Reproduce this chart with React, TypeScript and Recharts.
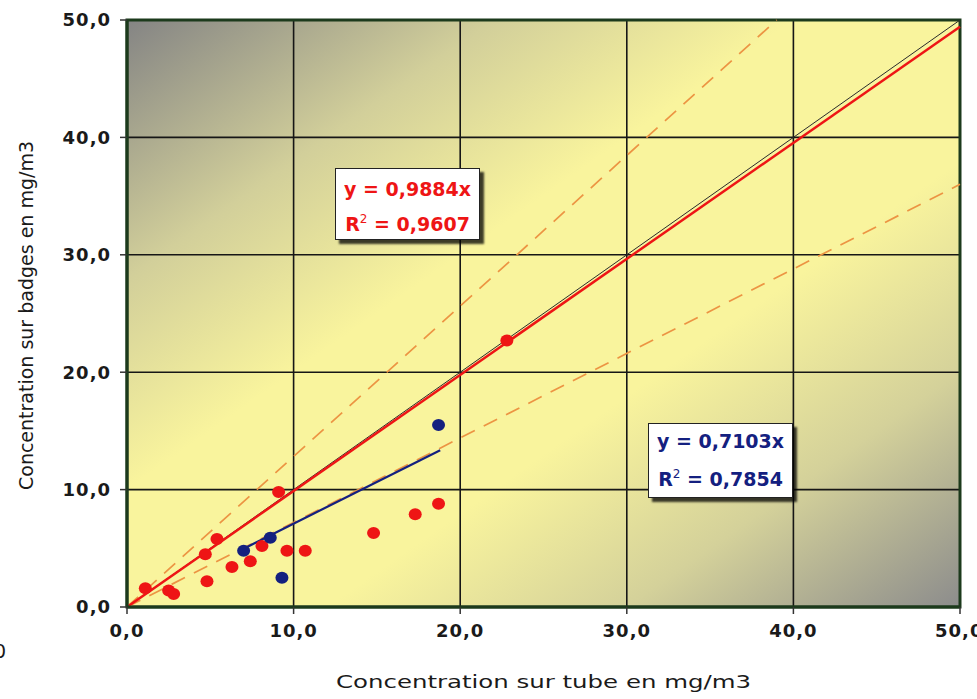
import React from 'react';
import {
  ScatterChart,
  CartesianGrid,
  XAxis,
  YAxis,
  Scatter,
  ReferenceLine,
  ReferenceArea,
  Label,
} from 'recharts';

// axes (mg/m3)
const axisTicks = [0, 10, 20, 30, 40, 50];

// badges vs tube – série rouge
const redTube = [1.1, 2.5, 2.8, 4.8, 4.7, 5.4, 6.3, 7.4, 8.1, 9.1, 9.6, 10.7, 14.8, 17.3, 18.7, 22.8];
const redBadge = [1.6, 1.4, 1.1, 2.2, 4.5, 5.8, 3.4, 3.9, 5.2, 9.8, 4.8, 4.8, 6.3, 7.9, 8.8, 22.7];

// série bleue
const blueTube = [7.0, 8.6, 9.3, 18.7];
const blueBadge = [4.8, 5.9, 2.5, 15.5];

// droites de régression et repères (extrémités)
const redFit = [{ x: 0, y: 0 }, { x: 50, y: 49.42 }];
const blueFit = [{ x: 7.0, y: 4.97 }, { x: 18.8, y: 13.35 }];
const identity = [{ x: 0, y: 0 }, { x: 50, y: 50 }];
const upperBound = [{ x: 0, y: 0 }, { x: 39, y: 50 }];
const lowerBound = [{ x: 0, y: 0 }, { x: 50, y: 36 }];

const RED = '#ee1515';
const BLUE = '#14207f';
const GRID = '#161616';
const FRAME = '#1c3a1c';
const DASH = '#ec9443';

const redPoints = redTube.map((x, i) => ({ x, y: redBadge[i] }));
const bluePoints = blueTube.map((x, i) => ({ x, y: blueBadge[i] }));

const fmt = (v: number) => v.toFixed(1).replace('.', ',');

const tickStyle = {
  fontFamily: '"DejaVu Sans", Verdana, sans-serif',
  fontSize: 18,
  fontWeight: 700,
  fill: '#1a1a1a',
  letterSpacing: 1,
};

function Dot({ cx, cy, color }: { cx?: number; cy?: number; color: string }) {
  if (cx == null || cy == null) return null;
  return <ellipse cx={cx} cy={cy} rx={6.5} ry={6} fill={color} />;
}

const boxBase: React.CSSProperties = {
  position: 'absolute',
  boxSizing: 'border-box',
  width: 145,
  background: '#fff',
  border: '1.5px solid #222',
  boxShadow: '4px 4px 2px rgba(0,0,0,0.75)',
  textAlign: 'center',
  fontFamily: '"DejaVu Sans", Verdana, sans-serif',
  fontWeight: 700,
  fontSize: 19,
  whiteSpace: 'nowrap',
};

export default function App() {
  return (
    <div style={{ position: 'absolute', left: 0, top: 0, width: 977, height: 699, background: '#fff' }}>
      <ScatterChart width={977} height={699} margin={{ top: 20, right: 17, bottom: 0, left: 0 }}>
        <defs>
          <linearGradient id="plotBg" x1="0" y1="0" x2="1" y2="1">
            <stop offset="0%" stopColor="#848484" />
            <stop offset="22%" stopColor="#d2cf9a" />
            <stop offset="40%" stopColor="#f9f49d" />
            <stop offset="62%" stopColor="#f9f49d" />
            <stop offset="80%" stopColor="#d4d19a" />
            <stop offset="100%" stopColor="#8c8c8c" />
          </linearGradient>
        </defs>
        <CartesianGrid fill="url(#plotBg)" fillOpacity={1} stroke={GRID} strokeWidth={1.6} />
        <XAxis
          type="number"
          dataKey="x"
          domain={[0, 50]}
          ticks={axisTicks}
          tickFormatter={fmt}
          height={92}
          tickSize={7}
          tickMargin={10}
          tick={tickStyle}
          axisLine={{ stroke: FRAME, strokeWidth: 3 }}
          tickLine={{ stroke: '#333', strokeWidth: 1.5 }}
        >
          <Label
            content={(props: any) => {
              const vb = props.viewBox;
              return (
                <text
                  x={vb.x + vb.width / 2}
                  y={vb.y + vb.height - 11}
                  textAnchor="middle"
                  textLength={415}
                  lengthAdjust="spacingAndGlyphs"
                  fontFamily='"DejaVu Sans", Verdana, sans-serif'
                  fontSize={18}
                  fill="#1a1a1a"
                >
                  Concentration sur tube en mg/m3
                </text>
              );
            }}
          />
        </XAxis>
        <YAxis
          type="number"
          dataKey="y"
          domain={[0, 50]}
          ticks={axisTicks}
          tickFormatter={fmt}
          width={127}
          tickSize={7}
          tickMargin={9}
          tick={tickStyle}
          axisLine={{ stroke: FRAME, strokeWidth: 3 }}
          tickLine={{ stroke: '#333', strokeWidth: 1.5 }}
        >
          <Label
            content={(props: any) => {
              const vb = props.viewBox;
              const cx = 33;
              const cy = vb.y + vb.height / 2 + 2;
              return (
                <text
                  x={cx}
                  y={cy}
                  transform={`rotate(-90, ${cx}, ${cy})`}
                  textAnchor="middle"
                  fontFamily='"DejaVu Sans", Verdana, sans-serif'
                  fontSize={19}
                  fill="#1a1a1a"
                >
                  Concentration sur badges en mg/m3
                </text>
              );
            }}
          />
        </YAxis>

        <ReferenceArea x1={0} x2={50} y1={0} y2={50} fill="none" stroke={FRAME} strokeWidth={3} />

        <ReferenceLine segment={upperBound} stroke={DASH} strokeWidth={1.7} strokeDasharray="15 10" />
        <ReferenceLine segment={lowerBound} stroke={DASH} strokeWidth={1.7} strokeDasharray="15 10" />
        <ReferenceLine segment={identity} stroke="#2b2b2b" strokeWidth={1} />
        <ReferenceLine segment={redFit} stroke={RED} strokeWidth={2.5} />
        <ReferenceLine segment={blueFit} stroke={BLUE} strokeWidth={2.2} />

        <Scatter
          name="rouge"
          data={redPoints}
          isAnimationActive={false}
          shape={(p: any) => <Dot cx={p.cx} cy={p.cy} color={RED} />}
        />
        <Scatter
          name="bleu"
          data={bluePoints}
          isAnimationActive={false}
          shape={(p: any) => <Dot cx={p.cx} cy={p.cy} color={BLUE} />}
        />
      </ScatterChart>

      <div style={{ ...boxBase, left: 335, top: 168, height: 72, paddingTop: 5, lineHeight: '30px', color: RED }}>
        <div>y = 0,9884x</div>
        <div>
          R<sup style={{ fontSize: 12, verticalAlign: 8, fontWeight: 400 }}>2</sup> = 0,9607
        </div>
      </div>
      <div style={{ ...boxBase, left: 648, top: 423, height: 75, paddingTop: 1, lineHeight: '33px', color: BLUE }}>
        <div>y = 0,7103x</div>
        <div>
          R<sup style={{ fontSize: 12, verticalAlign: 8, fontWeight: 400 }}>2</sup> = 0,7854
        </div>
      </div>

      <div
        style={{
          position: 'absolute',
          left: -6,
          top: 640,
          fontFamily: '"DejaVu Sans", Verdana, sans-serif',
          fontSize: 19,
          color: '#1a1a1a',
        }}
      >
        0
      </div>
    </div>
  );
}
